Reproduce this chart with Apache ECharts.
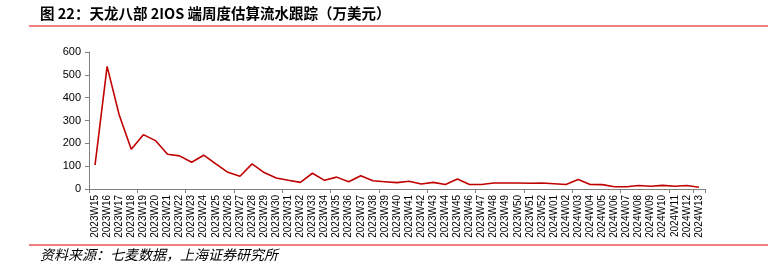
<!DOCTYPE html>
<html>
<head>
<meta charset="utf-8">
<script src="https://cdn.jsdelivr.net/npm/echarts@6/dist/echarts.min.js"></script>
<style>html,body{margin:0;padding:0;background:#fff;}#c{width:768px;height:273px;}</style>
</head>
<body>
<div id="c"></div>
<script>
const titleText = '图 22：天龙八部 2IOS 端周度估算流水跟踪（万美元）';
const sourceText = '资料来源：七麦数据，上海证券研究所';
const categories = [
  '2023W15','2023W16','2023W17','2023W18','2023W19','2023W20','2023W21','2023W22','2023W23','2023W24',
  '2023W25','2023W26','2023W27','2023W28','2023W29','2023W30','2023W31','2023W32','2023W33','2023W34',
  '2023W35','2023W36','2023W37','2023W38','2023W39','2023W40','2023W41','2023W42','2023W43','2023W44',
  '2023W45','2023W46','2023W47','2023W48','2023W49','2023W50','2023W51','2023W52','2024W01','2024W02',
  '2024W03','2024W04','2024W05','2024W06','2024W07','2024W08','2024W09','2024W10','2024W11','2024W12','2024W13'
];
const revenue = [
  105,537,324,174,238,212,152,145,117,148,
  110,73,56,110,72,48,38,29,69,38,
  52,32,58,36,32,28,34,22,29,20,
  44,20,20,26,26,26,25,26,23,20,
  42,20,19,10,10,15,12,16,12,15,8
];
const yMin = 0, yMax = 600, yStep = 100;

const chart = echarts.init(document.getElementById('c'), null, {renderer: 'canvas'});
chart.setOption({
  animation: false,
  backgroundColor: '#ffffff',
  grid: {left: 89, right: 63, top: 52, bottom: 84, containLabel: false},
  xAxis: {
    type: 'category',
    data: categories,
    boundaryGap: true,
    axisLine: {lineStyle: {color: '#808080', width: 1}},
    axisTick: {show: true, interval: 3, length: 4, lineStyle: {color: '#808080'}},
    axisLabel: {interval: 0, rotate: 90, color: '#000', fontSize: 10, fontFamily: 'Liberation Sans, Arial', margin: 6}
  },
  yAxis: {
    type: 'value',
    min: yMin, max: yMax, interval: yStep,
    splitLine: {show: false},
    axisLine: {show: true, lineStyle: {color: '#808080', width: 1}},
    axisTick: {show: true, length: 4, lineStyle: {color: '#808080'}},
    axisLabel: {color: '#000', fontSize: 11, fontFamily: 'Liberation Sans, Arial', margin: 8}
  },
  series: [{
    type: 'line',
    data: revenue,
    symbol: 'none',
    lineStyle: {color: '#C00000', width: 1.6},
    itemStyle: {color: '#C00000'}
  }],
  graphic: [
    {type: 'text', left: 40, top: 6, style: {text: titleText, fill: '#000', font: 'bold 14.5px "Noto Sans CJK SC", sans-serif'}},
    {type: 'line', shape: {x1: 29, y1: 26, x2: 768, y2: 26}, style: {stroke: '#F08080', lineWidth: 2}},
    {type: 'line', shape: {x1: 29, y1: 245, x2: 768, y2: 245}, style: {stroke: '#F08080', lineWidth: 2}},
    {type: 'text', left: 40, top: 248, style: {text: sourceText, fill: '#000', font: 'italic 14px "Noto Sans CJK SC", sans-serif'}}
  ]
});
</script>
</body>
</html>
